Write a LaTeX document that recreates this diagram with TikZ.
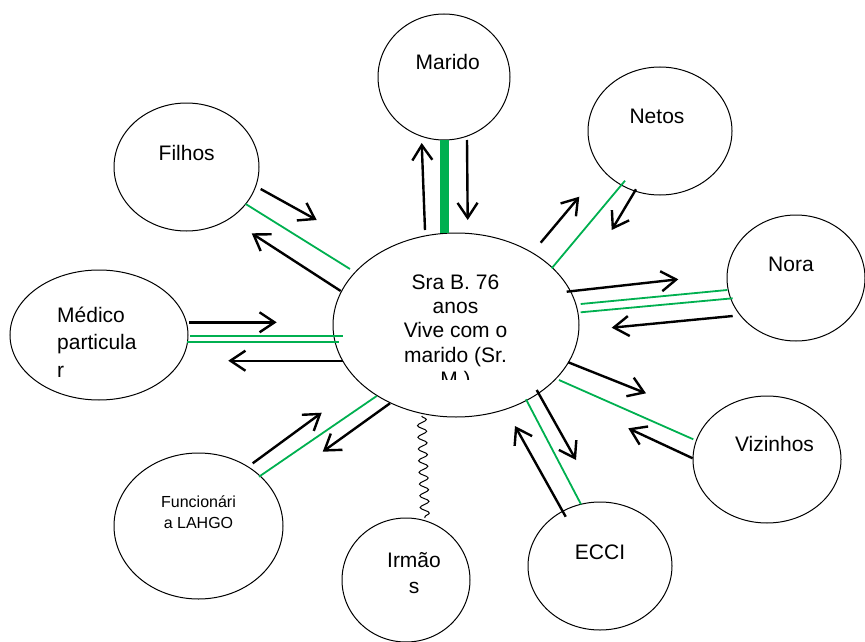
\documentclass[tikz,border=0pt]{standalone}
\usepackage{fontspec}
\setmainfont{Liberation Sans}
\usetikzlibrary{arrows.meta,shapes.geometric,decorations.pathmorphing}
\definecolor{tiegreen}{RGB}{0,176,80}

\begin{document}
\begin{tikzpicture}[x=1pt,y=-1pt,
  person/.style 2 args={draw,ellipse,line width=1pt,inner sep=0pt,
    minimum width=#1,minimum height=#2},
  lbl/.style={inner sep=0pt,anchor=base,font=\fontsize{21}{24.4}\selectfont},
  flow/.style={line width=2.4pt,-{Straight Barb[length=15pt,width=20pt]}},
  tie/.style={draw=tiegreen,line width=1.8pt},
  strongtie/.style={draw=tiegreen,line width=9pt},
  conflict/.style={line width=1pt,decorate,
    decoration={snake,amplitude=4.5pt,segment length=11.7pt}}]
\useasboundingbox (0,0) rectangle (865,642);

% people around the focal person
\node[person={246}{184}] (sra)   at (456,325) {};
\node[person={132}{126}] (mar)   at (444,77)  {};
\node[person={144}{128}] (net)   at (660,131) {};
\node[person={138}{126}] (nor)   at (796,278) {};
\node[person={148}{127}] (viz)   at (767,459.5) {};
\node[person={144}{128}] (ecc)   at (600,566) {};
\node[person={128}{124}] (irm)   at (406,580) {};
\node[person={169}{146}] (fun)   at (198.5,526) {};
\node[person={178}{130}] (med)   at (99,335)  {};
\node[person={145}{128}] (fil)   at (186.5,167) {};

% labels (multi-line labels are placed by the baseline of their last line)
\begin{scope}
  \clip (330,262) rectangle (585,379.5);
  \node[lbl,align=center] (sratxt) at (455.5,386.6)
    {Sra B. 76\\anos\\Vive com o\\marido (Sr.\\M.)};
\end{scope}
\node[lbl] (martxt) at (447.7,70)  {Marido};
\node[lbl] (nettxt) at (657,123)   {Netos};
\node[lbl] (nortxt) at (791,271)   {Nora};
\node[lbl] (viztxt) at (774.5,451) {Vizinhos};
\node[lbl] (ecctxt) at (600,559)   {ECCI};
\node[lbl] (filtxt) at (186.7,160) {Filhos};
\node[lbl,align=center,font=\fontsize{21}{26}\selectfont] (irmtxt) at (414,593) {Irmão\\s};
\node[lbl,align=center,font=\fontsize{16}{21}\selectfont] (funtxt) at (198.5,528) {Funcionári\\a LAHGO};
\node[lbl,align=left,anchor=base west,font=\fontsize{21}{27.5}\selectfont] (medtxt) at (57,377) {Médico\\particula\\r};

% connector end points
\coordinate (marA1) at (425,230);   \coordinate (marA2) at (421.7,143);
\coordinate (marG1) at (444.5,233); \coordinate (marG2) at (444.5,140);
\coordinate (marB1) at (467,140);   \coordinate (marB2) at (467.7,220);

\coordinate (filA1) at (260.7,189); \coordinate (filA2) at (316.7,220);
\coordinate (filG1) at (245.7,204); \coordinate (filG2) at (350,269);
\coordinate (filB1) at (340.7,291); \coordinate (filB2) at (251.7,233.3);

\coordinate (medA1) at (189,322.3);   \coordinate (medA2) at (276.7,322.3);
\coordinate (medG1) at (190,335.7);   \coordinate (medG2) at (342.7,335.7);
\coordinate (medH1) at (186.7,342.3); \coordinate (medH2) at (339.3,342.3);
\coordinate (medB1) at (343.3,360.7); \coordinate (medB2) at (228.3,360.7);

\coordinate (funA1) at (252.7,463.3); \coordinate (funA2) at (321.7,412.7);
\coordinate (funG1) at (259,476.7);   \coordinate (funG2) at (376.7,396);
\coordinate (funB1) at (390,403.3);   \coordinate (funB2) at (322.7,451.7);

\coordinate (irmW1) at (421.7,416); \coordinate (irmW2) at (425,518);

\coordinate (eccA1) at (565.7,516.7); \coordinate (eccA2) at (515,426);
\coordinate (eccG1) at (581,504.3);   \coordinate (eccG2) at (526,399.3);
\coordinate (eccB1) at (536.7,390);   \coordinate (eccB2) at (576,460);

\coordinate (vizA1) at (568.3,362.3); \coordinate (vizA2) at (646,393.3);
\coordinate (vizG1) at (559,380);     \coordinate (vizG2) at (693.3,439.3);
\coordinate (vizB1) at (692.7,458.3); \coordinate (vizB2) at (628.3,428.3);

\coordinate (norA1) at (566.7,291.7); \coordinate (norA2) at (678.3,279.3);
\coordinate (norG1) at (580.7,304);   \coordinate (norG2) at (727.3,290);
\coordinate (norH1) at (580.7,312.3); \coordinate (norH2) at (732.7,298.3);
\coordinate (norB1) at (732.7,316);   \coordinate (norB2) at (611.7,327.7);

\coordinate (netA1) at (540.7,242.7); \coordinate (netA2) at (579.3,196.7);
\coordinate (netG1) at (551.7,268.3); \coordinate (netG2) at (625,180.7);
\coordinate (netB1) at (636,189.3);   \coordinate (netB2) at (611.7,230);

% relationship lines
\draw[flow] (marA1) -- (marA2);
\draw[strongtie] (marG1) -- (marG2);
\draw[flow] (marB1) -- (marB2);

\draw[flow] (filA1) -- (filA2);
\draw[tie]  (filG1) -- (filG2);
\draw[flow] (filB1) -- (filB2);

\draw[flow] (medA1) -- (medA2);
\draw[tie]  (medG1) -- (medG2);
\draw[tie]  (medH1) -- (medH2);
\draw[flow] (medB1) -- (medB2);

\draw[flow] (funA1) -- (funA2);
\draw[tie]  (funG1) -- (funG2);
\draw[flow] (funB1) -- (funB2);

\draw[conflict] (irmW1) -- (irmW2);

\draw[flow] (eccA1) -- (eccA2);
\draw[tie]  (eccG1) -- (eccG2);
\draw[flow] (eccB1) -- (eccB2);

\draw[flow] (vizA1) -- (vizA2);
\draw[tie]  (vizG1) -- (vizG2);
\draw[flow] (vizB1) -- (vizB2);

\draw[flow] (norA1) -- (norA2);
\draw[tie]  (norG1) -- (norG2);
\draw[tie]  (norH1) -- (norH2);
\draw[flow] (norB1) -- (norB2);

\draw[flow] (netA1) -- (netA2);
\draw[tie]  (netG1) -- (netG2);
\draw[flow] (netB1) -- (netB2);
\end{tikzpicture}
\end{document}
